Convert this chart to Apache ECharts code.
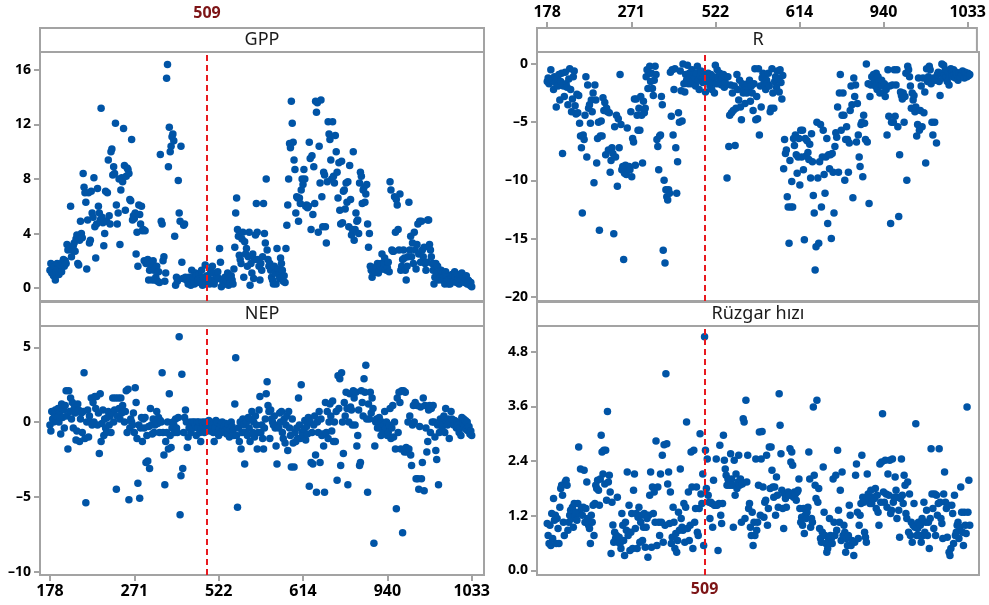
<!DOCTYPE html>
<html>
<head>
<meta charset="utf-8">
<script src="https://cdn.jsdelivr.net/npm/echarts@6/dist/echarts.min.js"></script>
<style>
  html, body { margin: 0; padding: 0; background: #ffffff; }
  #chart { width: 989px; height: 605px; }
</style>
</head>
<body>
<div id="chart"></div>
<script>
// Observation stamps printed on the shared time axis and their positions in the series
const tickLabels = ['178', '271', '522', '614', '940', '1033'];
const tickIndex = [0, 94, 188, 282, 376, 470];
// Reference observation marked with a dashed line
const refLabel = '509';
const refIndex = 175;

const panelTitles = ['GPP', 'R', 'NEP', 'Rüzgar hızı'];

const gppTicks = [0, 4, 8, 12, 16];
const rTicks = [-20, -15, -10, -5, 0];
const nepTicks = [-10, -5, 0, 5];
const windTicks = [0, 1.2, 2.4, 3.6, 4.8];

const gpp = [
  1.3,1.8,1.1,1.5,0.9,1.6,0.6,1.2,1.8,1.4,1.0,1.5,1.7,1.2,1.9,2.1,1.6,2.0,1.8,
  3.2,2.8,3.0,2.9,6.0,2.3,2.8,3.1,3.3,2.7,3.6,3.9,1.8,1.7,3.5,
  4.9,4.0,3.7,8.4,7.4,7.0,6.3,1.4,5.0,7.0,3.3,3.5,7.1,
  5.5,5.2,8.1,4.5,2.2,4.7,7.3,6.0,5.5,5.0,13.2,5.2,4.8,3.1,4.0,7.1,4.9,7.0,9.4,5.3,4.7,
  10.0,10.2,8.3,8.9,8.4,12.1,6.1,4.7,5.5,8.0,3.2,7.2,8.1,7.8,11.7,9.0,5.7,8.2,8.8,8.7,8.4,6.5,6.4,10.9,5.0,5.3,
  5.1,5.5,2.5,4.1,1.6,6.1,5.4,4.7,6.0,4.2,4.3,2.0,4.2,1.8,2.0,
  2.1,0.6,1.3,1.8,1.5,0.6,2.0,1.3,0.6,0.8,1.6,0.5,1.2,0.4,9.8,4.9,4.7,2.0,2.3,0.5,1.1,15.4,
  16.4,8.9,11.8,10.0,10.4,11.1,11.3,10.8,3.8,0.2,0.8,0.5,7.9,5.5,4.9,10.4,1.9,0.7,4.6,4.7,0.8,0.6,
  0.7,0.3,0.8,0.5,0.2,1.3,0.6,0.8,0.3,1.1,0.9,0.4,0.6,1.0,0.7,0.5,1.3,0.2,0.8,0.4,1.7,0.3,0.9,
  0.8,0.5,0.3,1.3,0.6,1.6,1.1,0.3,0.6,1.0,0.9,1.2,0.7,2.9,1.9,0.1,0.6,0.3,0.6,0.8,0.3,0.5,1.1,0.2,0.7,0.4,0.9,0.6,0.3,
  1.4,3.0,5.5,6.6,4.3,3.8,2.4,2.1,1.8,3.6,4.1,0.8,3.4,2.5,2.9,1.6,2.3,4.1,0.2,1.8,1.1,2.5,0.7,2.1,3.9,6.2,4.1,2.1,1.6,0.6,1.8,1.3,2.3,6.2,4.0,3.3,
  8.0,2.8,2.1,1.6,1.8,1.3,0.8,0.6,0.3,1.6,1.1,0.3,2.9,1.4,1.0,0.7,2.2,1.8,1.3,0.5,0.9,0.4,
  2.9,4.6,6.1,8.0,10.6,10.3,13.7,12.1,10.7,9.4,8.7,5.5,6.7,6.6,4.9,6.6,6.2,7.2,8.0,7.6,8.7,8.0,6.0,6.1,5.9,6.0,
  10.7,9.5,4.3,9.7,5.4,8.9,6.2,13.7,12.9,13.6,4.1,10.4,7.7,13.8,6.7,4.5,8.5,8.3,4.5,3.3,7.8,12.2,11.3,10.9,9.4,8.0,
  12.2,8.2,7.7,11.2,10.0,8.5,6.6,9.2,5.7,4.7,9.3,4.8,7.1,7.2,5.8,7.7,6.3,7.8,4.5,9.0,6.5,3.9,4.3,10.0,3.5,4.3,
  5.5,4.9,5.0,4.0,7.7,8.5,8.2,6.2,7.2,7.4,6.3,6.9,7.6,4.7,3.0,4.0,1.6,1.3,0.8,1.1,1.4,1.3,1.2,
  1.6,1.8,1.1,1.3,1.6,1.8,2.5,1.4,1.8,2.2,1.4,1.3,1.5,1.9,1.2,7.8,7.2,2.8,2.7,2.7,6.7,4.1,6.5,6.1,4.3,2.8,6.9,1.3,1.6,
  2.1,2.8,2.2,1.3,0.6,1.6,2.3,6.3,2.8,3.8,2.3,3.3,1.8,4.1,2.8,1.4,3.2,4.7,2.5,4.9,1.9,4.9,2.8,2.3,3.0,1.8,1.3,1.9,5.0,5.0,
  3.2,2.8,2.3,1.8,1.3,0.3,0.8,1.8,1.1,1.6,0.6,1.1,0.8,1.3,0.6,1.1,0.8,0.3,1.2,0.8,0.6,0.3,0.6,0.3,0.9,1.0,0.7,0.5,1.2,0.8,
  0.4,1.0,0.7,0.3,0.9,0.6,1.1,0.5,0.8,0.4,0.7,0.9,0.3,0.6,0.5,0.2,0.4,0.1
];

const r = [
  -1.5,-1.2,-1.7,-1.4,-0.5,-1.3,-1.4,-2.2,-1.1,-1.6,-3.7,-1.2,-1.9,-0.9,-3.1,-1.5,-0.8,-7.7,-1.9,-2.8,-0.7,-1.7,-2.0,-3.5,-1.3,-0.4,-2.2,-4.1,-3.0,-1.1,-0.6,-3.6,-4.3,-2.6,
  -4.2,-2.7,-5.1,-6.2,-7.2,-12.8,-6.1,-6.5,-4.4,-1.1,-8.0,-1.8,-3.8,-3.5,-5.1,-3.1,-4.1,-2.5,-10.2,-1.8,-3.1,-8.5,-6.4,-5.0,-14.3,-6.2,-4.9,-6.2,-2.9,-4.0,-3.3,
  -7.8,-3.8,-4.1,-7.4,-4.2,-9.3,-8.3,-7.2,-7.7,-14.6,-5.4,-8.0,-4.4,-10.5,-4.7,-7.2,-0.9,-5.2,-9.1,-8.8,-16.8,-9.4,-8.7,-9.5,-5.5,-9.0,
  -8.8,-9.1,-4.1,-9.7,-6.4,-6.7,-3.0,-8.7,-3.0,-4.4,-5.7,-3.8,-5.7,-2.8,-4.4,-8.5,-3.2,-4.2,-3.8,-1.1,-0.5,-2.1,-0.8,-0.2,-1.5,-0.8,
  -2.1,-2.7,-1.4,-0.2,-0.9,-6.5,-7.1,-9.1,-6.2,-6.1,-2.8,-3.5,-16.0,-10.0,-17.1,-10.8,-11.4,-11.7,-10.8,-11.1,-0.7,-4.5,-0.5,-6.1,-2.2,-0.4,-7.2,-11.1,-8.4,-4.2,-5.0,-0.6,-2.3,-4.9,
  0.0,-1.7,-2.4,-0.9,-1.4,-0.1,-1.7,-0.8,-1.2,-1.7,-0.5,-1.5,-0.9,-1.2,-1.9,-0.8,-0.2,-1.4,-2.2,-1.0,-0.6,-1.3,-1.6,-0.9,-1.1,
  -2.4,-1.1,-1.5,-0.8,-1.2,-1.9,-0.9,-2.2,-1.5,-1.1,-2.5,-0.1,-1.7,-0.5,-1.1,-1.7,-0.8,-1.4,-1.8,-1.3,
  -0.9,-2.0,-1.6,-1.1,-9.8,-1.1,-7.1,-4.4,-1.8,-4.2,-2.5,-4.0,-1.9,-7.0,-3.8,-0.9,-2.2,-3.1,-1.4,-3.7,
  -4.8,-1.7,-2.5,-2.1,-3.4,-2.2,-2.5,-1.7,-2.2,-1.4,-3.2,-1.9,-2.5,-4.0,-1.7,-0.4,-4.8,-2.8,-4.7,-0.4,-6.1,
  -1.9,-3.7,-1.2,-0.8,-1.7,-0.9,-2.2,-1.4,-1.7,-0.8,-1.9,-4.1,-3.8,-0.4,-2.5,-3.8,-1.5,-1.1,-2.0,-0.6,-1.3,-2.4,-0.5,-1.6,-3.0,-1.0,
  -9.0,-6.5,-7.7,-7.4,-11.4,-12.3,-15.4,-8.3,-12.3,-10.1,-12.3,-6.4,-7.0,-6.1,-7.8,-9.4,-8.0,-6.4,-10.4,-5.7,-8.0,-5.7,-9.1,-15.1,-6.4,-7.9,-6.6,-7.6,-8.2,-6.9,
  -9.8,-6.0,-8.4,-11.3,-12.8,-17.7,-15.7,-5.0,-9.8,-15.4,-8.4,-5.2,-12.3,-8.0,-5.7,-9.5,-11.1,-8.0,-6.4,-13.7,-7.8,-9.0,-7.8,-15.0,-7.7,-9.3,-12.8,-7.1,-5.9,-6.3,
  -3.7,-9.3,-2.5,-0.9,-5.7,-4.4,-2.5,-4.4,-10.0,-6.5,-5.4,-6.5,-9.3,-6.8,-4.0,-1.9,-3.5,-11.5,-1.2,-2.8,-1.8,-6.7,-3.4,-6.1,-8.0,-8.8,-5.2,-5.0,-9.7,-4.4,-5.1,-6.5,0.0,-6.7,-1.7,-12.0,-2.8,
  -1.8,-1.1,-1.7,-0.9,-1.4,-1.9,-0.8,-2.2,-1.1,-1.5,-2.5,-1.8,-1.4,-1.9,-2.5,-1.7,-2.8,-2.2,-6.1,-0.5,-4.5,-1.9,-13.7,-5.0,-1.8,-5.0,-0.5,-4.5,-1.8,-0.5,
  -5.4,-13.1,-7.8,-2.4,-2.7,-3.0,-2.5,-5.0,-2.8,-0.8,-10.0,-0.2,-0.5,-1.1,-1.9,-3.8,-2.5,-3.1,-2.7,-4.1,-3.7,-6.2,-5.2,-1.2,-5.7,-4.0,-1.9,-5.4,-1.2,
  -4.2,-2.4,-8.5,-0.4,-1.5,-1.1,-0.2,-0.5,-1.7,-5.0,-6.1,-1.2,-5.0,-1.4,-6.8,-0.9,-0.7,-1.5,-2.7,-0.8,0.0,-1.2,-0.1,-0.9,-0.5,-1.1,-1.5,-0.7,-1.8,-1.0,
  -0.4,-0.8,-1.1,-0.5,-0.9,-1.2,-0.7,-0.9,-1.4,-0.8,-1.1,-0.8,-0.9,-0.6,-1.0,-1.2,-0.7,-0.9,-1.1,-0.8,-1.0,-0.9
];

const nep = [
  -0.2,-0.6,0.7,0.2,0.0,0.4,0.8,0.1,0.3,0.9,0.0,0.7,-0.8,1.2,0.3,0.8,-0.4,1.1,2.1,
  0.4,-1.8,2.1,0.7,1.6,0.2,1.3,-0.4,0.9,0.6,-1.2,-0.6,1.2,0.8,-1.3,0.2,0.6,-0.7,0.7,3.3,-1.1,-5.4,0.0,
  0.8,-1.0,0.4,0.0,1.6,-0.2,1.3,0.0,1.7,0.9,1.7,-0.2,0.6,-2.1,1.9,-1.3,-0.1,0.8,-0.9,0.2,-0.4,-0.7,0.3,0.7,-0.2,0.4,
  -0.7,0.6,1.6,0.0,0.8,1.6,-4.5,0.4,1.6,0.9,0.2,1.6,0.6,1.1,0.7,0.0,0.7,2.1,-0.7,2.2,-5.2,-0.4,0.2,0.0,-0.2,0.6,
  -0.7,2.3,1.3,-1.1,-4.1,-0.2,-5.1,-0.4,0.3,-1.3,0.2,-0.4,0.3,-2.7,-0.9,-2.6,-0.3,-3.1,0.9,-0.2,-0.8,0.2,-0.7,-0.2,0.0,0.7,
  -0.1,0.3,-0.7,0.1,0.0,3.3,-0.7,-2.2,-4.2,-1.3,-0.7,0.0,-1.8,1.9,-0.9,-1.7,-0.4,0.0,-0.2,-0.7,0.2,-0.4,-0.7,0.3,5.7,-6.2,-3.6,3.2,-3.1,-0.7,0.3,0.8,0.0,
  -1.7,-1.0,-0.4,0.0,-0.7,-0.2,0.0,-0.4,0.0,-0.2,-0.9,0.0,-0.4,0.0,-0.7,-1.3,-0.4,0.0,-0.2,-0.7,0.0,-0.4,-0.3,-0.5,0.1,-0.6,
  0.0,-0.4,-0.2,-0.7,-1.3,-0.4,0.1,0.0,-0.7,-0.9,
  -0.4,-0.2,-0.7,0.0,-0.5,-0.3,-0.6,-0.1,-0.8,-0.4,
  -0.2,-1.0,-0.5,0.0,-0.3,-0.6,-0.9,1.2,4.3,-0.9,
  -5.7,-0.4,-1.3,0.0,-1.8,-0.7,0.2,-0.2,-2.8,-0.7,
  0.0,-0.9,0.3,-0.4,-1.3,0.2,0.7,-0.7,0.0,-1.0,
  0.4,-0.2,-1.8,-0.7,0.8,1.7,-0.7,-0.2,-1.1,-1.8,
  -0.4,0.2,
  1.9,2.7,1.1,0.7,-1.1,0.8,0.2,0.0,-0.2,0.4,-0.4,-1.6,-2.8,-0.2,-0.4,0.6,0.0,0.7,-0.7,-1.1,0.2,-1.4,
  -0.2,0.4,-1.9,0.7,-0.4,-0.9,-3.0,0.2,-1.4,-3.0,-0.7,-1.3,-0.4,-1.1,1.6,-0.2,-1.1,2.5,-0.7,-0.9,-0.5,0.1,-1.2,-0.3,-0.8,0.3,
  -4.3,0.0,-2.7,-0.7,-2.8,-0.2,0.4,-2.2,-4.7,0.0,-0.7,0.7,-2.7,0.2,-0.9,-0.8,-1.6,-4.7,1.3,-0.7,0.7,-1.1,0.0,1.2,0.4,-0.6,
  1.4,-1.3,0.0,-1.3,0.7,-3.9,3.1,0.9,2.9,-2.9,3.3,0.0,-2.1,1.3,0.4,2.0,0.9,-4.2,0.0,1.9,1.0,0.8,-0.2,2.1,1.6,-0.2,
  2.0,-1.6,-0.9,0.8,-2.9,-2.7,2.1,1.3,0.4,2.9,2.0,3.8,0.2,-4.7,1.2,0.2,2.0,0.6,1.6,0.9,-8.1,-1.6,0.0,
  0.2,-0.4,0.0,0.3,-0.4,-0.9,0.0,-0.7,-0.2,0.7,-0.4,0.0,-0.9,-0.7,-0.2,0.9,-1.1,-0.4,1.1,-1.0,0.0,-1.8,-5.8,1.6,-0.7,2.0,1.3,-1.8,2.1,
  -7.4,2.1,-2.0,2.0,-1.7,-2.0,0.0,-1.8,0.4,-2.2,-2.9,-0.2,1.1,0.0,1.3,-3.8,1.1,-3.8,-4.5,-0.3,1.0,-3.8,-2.7,1.6,-4.6,1.1,-0.4,-2.0,-1.3,0.8,
  1.1,-0.7,0.9,0.0,1.1,0.0,-1.0,-1.9,-2.5,-0.2,-4.2,-0.7,0.2,0.0,-0.4,-0.2,0.4,-0.7,0.9,0.0,
  -0.2,0.2,-1.1,0.0,0.7,0.2,0.0,-0.2,0.1,0.0,-0.4,0.0,-0.2,-0.7,-0.4,-0.9,0.3,-0.1,0.2,-0.3,
  0.1,-0.5,0.0,-0.6,-0.3,-0.8,-0.6,-0.9
];

const wind = [
  1.03,0.77,0.59,0.99,0.55,1.25,0.70,1.58,1.10,1.21,0.59,1.14,0.92,0.59,1.39,1.80,1.87,1.65,1.06,0.77,1.94,1.98,1.87,0.88,1.06,1.21,1.32,1.14,1.39,0.95,1.47,1.20,1.28,1.10,
  1.47,2.71,1.25,2.23,1.36,1.21,1.39,2.20,1.06,1.36,1.94,1.14,0.99,0.92,0.59,1.21,1.06,1.43,0.77,1.47,1.87,1.80,1.98,1.76,1.43,2.01,2.97,2.60,2.12,2.64,1.90,
  2.64,1.54,3.49,1.94,2.09,1.72,0.37,1.50,1.00,0.62,0.84,0.70,0.77,1.61,0.62,0.73,0.59,0.48,1.25,0.99,0.66,0.33,1.06,0.88,2.16,0.77,
  1.43,0.44,0.84,1.25,0.48,1.76,2.12,0.92,1.25,0.48,1.17,1.39,0.62,1.06,1.21,0.66,0.95,1.25,0.51,0.95,1.14,0.29,1.21,1.65,2.16,0.51,
  1.83,1.25,1.72,1.06,2.84,0.55,1.83,1.06,0.77,2.12,1.06,2.53,0.62,2.76,0.99,4.32,2.78,1.90,2.16,1.03,1.72,0.59,0.73,1.39,1.06,0.48,0.81,0.40,0.66,1.28,0.88,2.23,1.14,0.95,
  0.88,1.47,0.62,1.39,3.26,0.92,1.72,0.66,0.99,2.60,1.83,0.48,2.64,1.06,1.36,1.83,0.84,0.77,1.36,3.00,1.68,1.47,2.12,0.55,
  5.13,2.64,1.80,2.45,1.65,1.50,1.14,1.50,1.47,0.95,1.98,1.43,1.43,2.45,1.43,0.44,1.47,2.75,1.21,1.03,
  1.47,2.97,2.42,2.23,2.09,1.87,2.01,1.94,1.87,2.56,2.01,1.87,0.95,2.42,1.65,2.12,1.80,1.94,2.53,1.87,
  2.01,1.06,1.90,3.33,3.26,1.14,3.74,1.94,2.53,1.36,1.47,0.95,0.77,1.28,0.55,1.06,0.77,2.45,0.88,1.06,1.87,3.04,
  1.21,2.45,3.05,1.83,1.17,1.50,1.54,2.53,0.99,1.36,2.71,1.80,2.71,2.20,1.83,1.61,1.83,1.21,2.05,1.65,1.39,3.88,3.19,
  2.56,1.76,1.36,0.92,1.68,1.58,1.39,1.68,1.72,1.65,2.67,2.38,2.60,2.31,1.61,1.72,1.68,1.54,1.72,1.76,2.01,1.36,1.06,1.17,0.99,1.36,0.81,1.21,1.14,1.28,1.39,2.60,2.01,
  0.95,1.14,1.06,3.59,2.09,1.87,1.58,3.74,1.50,1.80,0.92,0.70,0.62,0.84,2.27,1.28,0.77,0.59,0.40,0.48,0.70,1.14,0.77,0.70,0.59,2.01,1.06,0.77,2.09,0.88,
  2.64,1.32,1.06,1.76,0.66,2.16,0.77,0.99,0.84,0.40,0.70,0.55,0.77,1.43,1.21,0.55,0.66,0.62,0.33,0.62,2.09,2.34,1.28,0.70,0.99,1.21,1.47,2.53,1.61,1.50,0.84,0.73,0.62,2.12,1.68,1.58,1.47,
  1.76,1.47,1.58,1.61,1.58,1.80,1.36,1.65,1.28,0.99,2.34,1.50,2.38,3.44,1.72,1.50,2.42,1.68,1.39,2.12,1.65,2.42,1.25,1.32,2.45,1.50,1.61,2.05,1.76,1.14,
  1.61,1.32,0.73,1.58,2.45,1.65,1.47,2.09,1.87,1.25,1.14,1.94,0.84,1.68,0.77,1.06,0.62,0.99,1.47,0.95,3.22,0.77,0.92,1.06,0.77,0.99,0.62,1.14,0.77,
  1.50,0.84,1.06,1.32,0.77,1.06,0.48,1.14,2.67,1.68,1.36,0.92,1.68,0.77,1.65,1.21,1.47,2.67,1.50,1.14,1.03,0.70,1.68,2.16,1.50,1.36,0.73,1.43,0.40,0.33,
  0.48,1.43,1.25,0.59,1.65,0.77,0.84,0.99,1.06,0.70,0.95,1.83,1.28,0.84,0.55,1.28,0.99,0.81,3.59,1.28,1.98,0.99
];

// ---- styling ----
const BLUE = '#0054a6';
const FRAME = '#a3a3a3';
const RED = '#e8191f';
const DARK_RED = '#7d1416';
const FONT = '"Noto Sans", "Open Sans", sans-serif';

// Plot boxes: [GPP, R, NEP, Rüzgar hızı]; each has a title strip directly above it
const panels = [
  { left: 40,  top: 52,  width: 444, height: 249, stripTop: 28 },
  { left: 537, top: 52,  width: 442, height: 249, stripTop: 28 },
  { left: 40,  top: 325, width: 444, height: 250, stripTop: 302 },
  { left: 537, top: 325, width: 442, height: 250, stripTop: 302 }
];
const STRIP_H = 24;

const xRanges = [
  [-11.1, 483.7],
  [-11.4, 480.3],
  [-11.1, 483.7],
  [-11.4, 480.3]
];

const yRanges = [
  [-0.95, 17.32],
  [-20.37, 1.03],
  [-10.23, 6.49],
  [-0.10, 5.39]
];

const yTickSets = [gppTicks, rTicks, nepTicks, windTicks];
const seriesValues = [gpp, r, nep, wind];

const fmtNum = (v) => (v < 0 ? '\u2013' + Math.abs(v) : String(v));
const yFormatters = [fmtNum, fmtNum, fmtNum, (v) => v.toFixed(1)];

const tickLabelOf = (v) => {
  const k = tickIndex.indexOf(Math.round(v));
  return k >= 0 ? tickLabels[k] : '';
};

// axes sit on the frame edge (not on the other axis' zero) and ticks point outward
const noLine = { show: false, onZero: false };
const axisTickStyle = { show: true, inside: false, length: 6, lineStyle: { color: FRAME, width: 2 } };
const boldLabel = { color: '#000', fontWeight: 'bold', fontSize: 16, fontFamily: FONT };

// grids 0-3: plot areas, grids 4-7: title strips
const grid = panels.map(p => ({
  left: p.left, top: p.top, width: p.width, height: p.height,
  show: true, borderColor: FRAME, borderWidth: 2, backgroundColor: '#ffffff'
})).concat(panels.map(p => ({
  left: p.left, top: p.stripTop, width: p.width, height: STRIP_H,
  show: true, borderColor: FRAME, borderWidth: 2, backgroundColor: '#ffffff'
})));

const hiddenX = (g, k) => ({
  type: 'value', gridIndex: g, min: xRanges[k][0], max: xRanges[k][1], show: false,
  axisLine: noLine
});

const xAxis = [
  // plot areas
  hiddenX(0, 0),
  hiddenX(1, 1),
  {
    type: 'value', gridIndex: 2, min: xRanges[2][0], max: xRanges[2][1],
    position: 'bottom',
    axisLine: noLine, splitLine: { show: false },
    axisTick: Object.assign({ customValues: tickIndex }, axisTickStyle),
    axisLabel: Object.assign({ customValues: tickIndex, formatter: tickLabelOf, margin: 8 }, boldLabel)
  },
  {
    type: 'value', gridIndex: 3, min: xRanges[3][0], max: xRanges[3][1],
    position: 'bottom',
    axisLine: noLine, axisTick: { show: false }, splitLine: { show: false },
    axisLabel: Object.assign({}, boldLabel, {
      customValues: [refIndex], formatter: () => refLabel, color: DARK_RED, margin: 6
    })
  },
  // title strips
  {
    type: 'value', gridIndex: 4, min: xRanges[0][0], max: xRanges[0][1],
    position: 'top',
    axisLine: noLine, axisTick: { show: false }, splitLine: { show: false },
    axisLabel: Object.assign({}, boldLabel, {
      customValues: [refIndex], formatter: () => refLabel, color: DARK_RED, margin: 7
    })
  },
  {
    type: 'value', gridIndex: 5, min: xRanges[1][0], max: xRanges[1][1],
    position: 'top',
    axisLine: noLine, splitLine: { show: false },
    axisTick: Object.assign({ customValues: tickIndex }, axisTickStyle),
    axisLabel: Object.assign({ customValues: tickIndex, formatter: tickLabelOf, margin: 8 }, boldLabel)
  },
  hiddenX(6, 2),
  hiddenX(7, 3)
];

const yAxis = panels.map((p, k) => ({
  type: 'value', gridIndex: k, min: yRanges[k][0], max: yRanges[k][1],
  axisLine: noLine, splitLine: { show: false },
  axisTick: Object.assign({ customValues: yTickSets[k] }, axisTickStyle),
  axisLabel: {
    customValues: yTickSets[k], formatter: yFormatters[k],
    color: '#000', fontWeight: 'bold', fontSize: 14, fontFamily: FONT, margin: 9
  }
})).concat([4, 5, 6, 7].map(g => ({
  type: 'value', gridIndex: g, min: 0, max: 1, show: false, axisLine: noLine
})));

const series = seriesValues.map((vals, k) => ({
  type: 'scatter',
  xAxisIndex: k, yAxisIndex: k,
  data: vals.map((v, i) => [i, v]),
  symbol: 'circle', symbolSize: 7.5,
  itemStyle: { color: BLUE, opacity: 1 },
  emphasis: { disabled: true },
  markLine: {
    silent: true, symbol: 'none', animation: false,
    label: { show: false },
    lineStyle: { color: RED, type: [6, 4], width: 2, opacity: 1 },
    data: [{ xAxis: refIndex }]
  },
  z: 3
}));

// Panel titles centred in their strips
const graphic = panels.map((p, k) => ({
  type: 'text', z: 11,
  x: p.left + p.width / 2, y: p.stripTop + STRIP_H / 2,
  style: {
    text: panelTitles[k], fill: '#1a1a1a',
    font: '18px ' + FONT, align: 'center', verticalAlign: 'middle'
  }
}));

const chart = echarts.init(document.getElementById('chart'), null, { renderer: 'canvas' });
chart.setOption({
  animation: false,
  backgroundColor: '#ffffff',
  grid, xAxis, yAxis, series, graphic
});
</script>
</body>
</html>
